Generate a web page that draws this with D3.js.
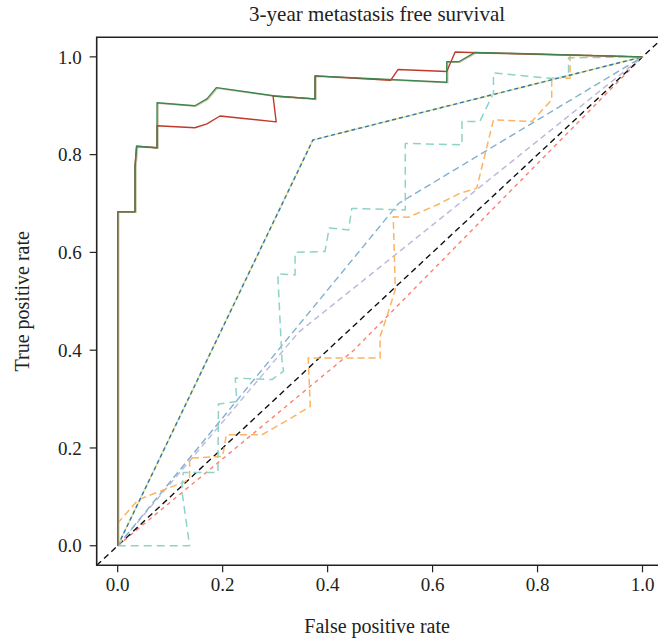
<!DOCTYPE html>
<html><head><meta charset="utf-8">
<script src="https://cdn.jsdelivr.net/npm/d3@7"></script>
<style>body{margin:0;background:#fff}svg{display:block}text{font-family:"Liberation Serif","DejaVu Serif",serif;fill:#222}</style>
</head><body><svg id="c" width="658" height="642"></svg>
<script>
const title = "3-year metastasis free survival";
const xLabel = "False positive rate";
const yLabel = "True positive rate";
const ticks = [0, 0.2, 0.4, 0.6, 0.8, 1.0];
const tickLabels = ["0.0","0.2","0.4","0.6","0.8","1.0"];

const redFPR = [0,0,0.033,0.033,0.036,0.075,0.075,0.147,0.17,0.195,0.302,0.296,0.376,0.376,0.52,0.534,0.627,0.643,0.70,1];
const redTPR = [0,0.683,0.683,0.776,0.817,0.814,0.859,0.855,0.863,0.879,0.867,0.92,0.914,0.961,0.952,0.974,0.970,1.01,1.008,1];
const greenFPR = [0,0,0.033,0.033,0.036,0.075,0.075,0.147,0.17,0.188,0.30,0.376,0.376,0.627,0.627,0.65,0.681,1];
const greenTPR = [0,0.683,0.683,0.776,0.817,0.814,0.906,0.90,0.914,0.937,0.92,0.914,0.961,0.948,0.99,0.99,1.009,1];
const blueFPR = [0,0.372,1];
const blueTPR = [0,0.830,1];
const tealFPR = [0,0.137,0.122,0.125,0.191,0.192,0.227,0.224,0.294,0.316,0.313,0.305,0.338,0.338,0.395,0.403,0.44,0.446,0.548,0.548,0.656,0.656,0.69,0.716,0.716,0.824,0.859,0.859,1];
const tealTPR = [0,0,0.115,0.15,0.15,0.29,0.295,0.343,0.34,0.357,0.38,0.556,0.554,0.6,0.602,0.65,0.646,0.69,0.687,0.823,0.82,0.868,0.868,0.926,0.967,0.956,0.96,0.998,1];
const orangeFPR = [0,0,0.039,0.128,0.137,0.137,0.2,0.207,0.275,0.319,0.367,0.363,0.5,0.5,0.513,0.529,0.525,0.554,0.608,0.652,0.684,0.716,0.789,0.827,0.827,0.862,0.862,1];
const orangeTPR = [0,0.046,0.094,0.131,0.138,0.179,0.183,0.227,0.227,0.254,0.285,0.384,0.384,0.428,0.469,0.524,0.673,0.672,0.697,0.721,0.731,0.871,0.868,0.912,0.956,0.956,1.004,1];
const lightBlueFPR = [0,0.535,1];
const lightBlueTPR = [0,0.70,1];
const lavenderFPR = [0,0.345,1];
const lavenderTPR = [0,0.437,1];
const salmonFPR = [0,0.45,1];
const salmonTPR = [0,0.40,1];
const refFPR = [-0.04,1.04];
const refTPR = [-0.04,1.04];

const svg = d3.select("#c");
const L = 96.7, R = 663.5, T = 37.3, B = 565.3;
const x = d3.scaleLinear().domain([-0.04,1.04]).range([L,R]);
const y = d3.scaleLinear().domain([-0.04,1.04]).range([B,T]);

svg.append("defs").append("clipPath").attr("id","clip")
  .append("rect").attr("x",L).attr("y",T).attr("width",R-L).attr("height",B-T);

const g = svg.append("g").attr("clip-path","url(#clip)");
const line = d3.line().x(d=>x(d[0])).y(d=>y(d[1]));
function draw(fx, ty, color, width, dash){
  const pts = fx.map((v,i)=>[v,ty[i]]);
  g.append("path").attr("d",line(pts)).attr("fill","none")
   .attr("stroke",color).attr("stroke-width",width)
   .attr("stroke-dasharray",dash||null).attr("stroke-linejoin","round");
}
draw(salmonFPR, salmonTPR, "#fb8072", 1.4, "4,4");
draw(refFPR, refTPR, "#111", 1.4, "6,4");
draw(lavenderFPR, lavenderTPR, "#bebada", 1.4, "6,4");
draw(lightBlueFPR, lightBlueTPR, "#80b1d3", 1.4, "7,4");
draw(orangeFPR, orangeTPR, "#fdb462", 1.5, "7,4");
draw(tealFPR, tealTPR, "#8dd3c7", 1.5, "8,5");
draw(blueFPR, blueTPR, "#e6e69c", 1.7, null);
draw(blueFPR, blueTPR, "#2f78b8", 1.4, "4,3");
// soft shadow under solid curves
g.append("path").attr("d",line(greenFPR.map((v,i)=>[v,greenTPR[i]]))).attr("fill","none")
  .attr("stroke","#cfc6ad").attr("stroke-width",1.5).attr("transform","translate(1,0.5)");
draw(redFPR, redTPR, "#c0392b", 1.4, null);
draw(greenFPR, greenTPR, "#3f8550", 1.4, null);

// box
svg.append("path").attr("d",`M${R},${T}H${L}V${B}H${R}`).attr("fill","none").attr("stroke","#222").attr("stroke-width",1.6);

// axes
const xa = svg.append("g");
ticks.forEach((t,i)=>{
  xa.append("line").attr("x1",x(t)).attr("x2",x(t)).attr("y1",B).attr("y2",B+7).attr("stroke","#222").attr("stroke-width",1.2);
  xa.append("text").attr("x",x(t)).attr("y",B+26).attr("text-anchor","middle").attr("font-size",19).text(tickLabels[i]);
});
const ya = svg.append("g");
ticks.forEach((t,i)=>{
  ya.append("line").attr("x1",L).attr("x2",L-7).attr("y1",y(t)).attr("y2",y(t)).attr("stroke","#222").attr("stroke-width",1.2);
  ya.append("text").attr("x",L-15).attr("y",y(t)).attr("dy","0.35em").attr("text-anchor","end").attr("font-size",19).text(tickLabels[i]);
});
svg.append("text").attr("x",(L+R)/2-3).attr("y",21).attr("text-anchor","middle").attr("font-size",21).text(title);
svg.append("text").attr("x",(L+R)/2-3).attr("y",633).attr("text-anchor","middle").attr("font-size",20).text(xLabel);
svg.append("text").attr("transform",`translate(29,${(T+B)/2}) rotate(-90)`).attr("text-anchor","middle").attr("font-size",20).text(yLabel);
</script></body></html>
